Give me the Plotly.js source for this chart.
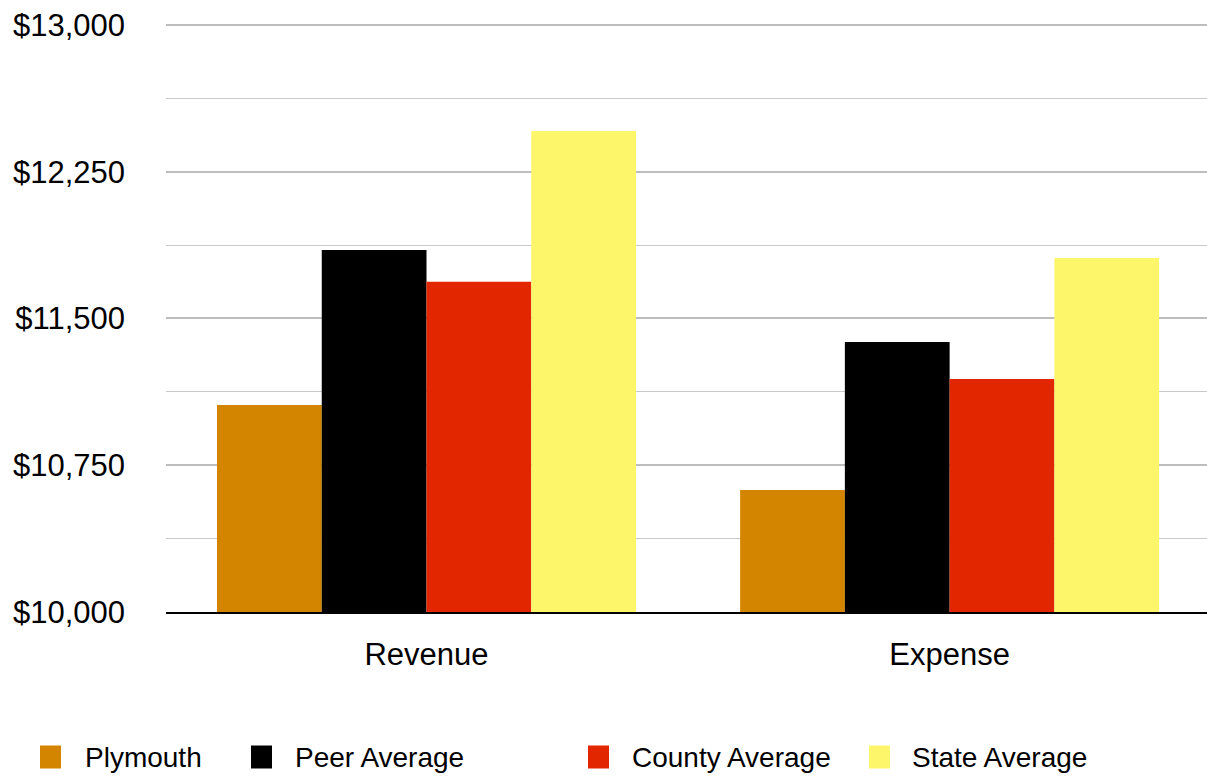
<!DOCTYPE html>
<html>
<head>
<meta charset="utf-8">
<script src="https://cdn.plot.ly/plotly-3.0.1.min.js"></script>
<style>html,body{margin:0;padding:0;background:#fff}#chart{width:1207px;height:777px}</style>
</head>
<body>
<div id="chart"></div>
<script>
const categories = ["Revenue", "Expense"];
const seriesNames = ["Plymouth", "Peer Average", "County Average", "State Average"];
const plymouth = [11058, 10624];
const peerAverage = [11850, 11380];
const countyAverage = [11687, 11191];
const stateAverage = [12458, 11809];
const tickValues = [10000, 10750, 11500, 12250, 13000];
const tickLabels = ["$10,000", "$10,750", "$11,500", "$12,250", "$13,000"];

const colors = ["#D38500", "#000000", "#E22600", "#FEF66A"];
const seriesValues = [plymouth, peerAverage, countyAverage, stateAverage];
const FONT = "Liberation Sans, Arial, Helvetica, sans-serif";

const W = 1207, H = 777;
const L = 166, R = 0, T = 21, B = 165;
const pw = W - L - R, ph = H - T - B;

const traces = seriesNames.map((name, i) => ({
  type: "bar",
  name: name,
  x: categories,
  y: seriesValues[i],
  marker: {color: colors[i], line: {width: 0}},
  showlegend: false,
  hoverinfo: "x+y+name"
}));

// custom legend (pixel positions of legend entries)
const legendSquareX = [40, 251, 588, 869];
const legendTextX = [83, 293, 630, 910];
const legendY = 757;
const shapes = [], annotations = [];
const px2x = p => (p - L) / pw;
const py2y = p => (H - B - p) / ph;
seriesNames.forEach((name, i) => {
  shapes.push({
    type: "rect", xref: "paper", yref: "paper",
    x0: px2x(legendSquareX[i]), x1: px2x(legendSquareX[i] + 21),
    y0: py2y(legendY - 11.5), y1: py2y(legendY + 11.5),
    fillcolor: colors[i], line: {width: 0}
  });
  annotations.push({
    xref: "paper", yref: "paper",
    x: px2x(legendTextX[i]), y: py2y(legendY),
    xanchor: "left", yanchor: "middle",
    text: name, showarrow: false,
    font: {family: FONT, size: 28, color: "#000"}
  });
});

const layout = {
  width: W, height: H,
  margin: {l: L, r: R, t: T, b: B, pad: 0},
  paper_bgcolor: "#fff", plot_bgcolor: "#fff",
  barmode: "group",
  bargap: 0.199,
  bargroupgap: 0,
  showlegend: false,
  font: {family: FONT, size: 31, color: "#000"},
  xaxis: {
    type: "category",
    range: [-0.498, 1.492],
    showgrid: false,
    showline: true, linecolor: "#000", linewidth: 2,
    ticks: "", ticklabelstandoff: 14,
    tickfont: {family: FONT, size: 31, color: "#000"},
    fixedrange: true
  },
  yaxis: {
    range: [10000, 13020],
    tickmode: "array",
    tickvals: tickValues,
    ticktext: tickLabels,
    showgrid: true, gridcolor: "#BDBDBD", gridwidth: 2,
    minor: {dtick: 375, tick0: 10000, showgrid: true, gridcolor: "#C8C8C8", gridwidth: 1, ticks: ""},
    zeroline: false, showline: false,
    ticks: "", ticklabelstandoff: 40,
    tickfont: {family: FONT, size: 31, color: "#000"},
    fixedrange: true
  },
  shapes: shapes,
  annotations: annotations
};

Plotly.newPlot("chart", traces, layout, {displayModeBar: false, staticPlot: true});
</script>
</body>
</html>
